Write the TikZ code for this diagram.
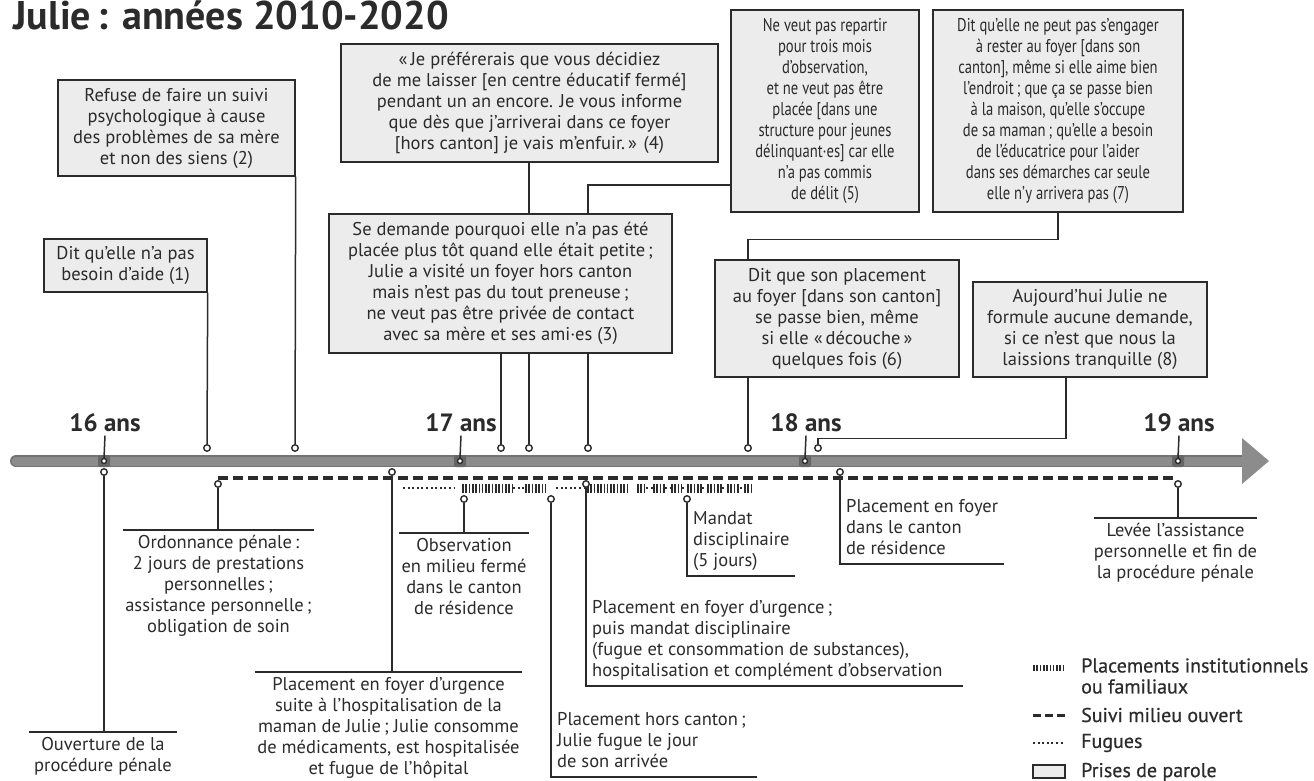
\documentclass[tikz,border=0pt]{standalone}
\usepackage{fontspec}
\setmainfont{PT Sans}
\newfontfamily\narrowfont{PT Sans}[FakeStretch=0.79]
\newfontfamily\legendfont{PT Sans}[FakeBold=0.5]
\usetikzlibrary{backgrounds, calc}

\definecolor{boxgray}{HTML}{ECECEC}
\definecolor{bargray}{HTML}{8C8C8C}
\definecolor{ink}{HTML}{2B2B2B}

\begin{document}
\begin{tikzpicture}[x=1pt, y=-1pt,
    txt/.style={font=\fontsize{18.5}{21}\selectfont, text=ink, inner sep=0pt},
    parole/.style={txt, draw=ink, fill=boxgray, line width=1.4pt, align=center, execute at begin node={\rule{0pt}{22pt}}},
    narrow/.style={font=\narrowfont\fontsize{18.5}{21}\selectfont},
    event/.style={txt, align=center, inner xsep=0pt, inner ysep=5pt, anchor=north},
    lefevent/.style={txt, align=left, inner xsep=6pt, inner ysep=3pt, anchor=south west, execute at end node=\strut},
    link/.style={draw=ink, line width=1.5pt},
    dot/.style={circle, draw=ink, fill=white, line width=1.4pt, inner sep=0pt, minimum size=6.5pt},
    age/.style={font=\bfseries\fontsize{25}{28}\selectfont, text=ink},
    suivi/.style={draw=ink, line width=3.6pt, dash pattern=on 10pt off 5pt},
    placement/.style={draw=ink, line width=9pt, dash pattern=on 1.6pt off 1.7pt},
    fugue/.style={draw=ink, line width=2.4pt, dash pattern=on 2pt off 2.6pt},
]
    \useasboundingbox (0,0) rectangle (1314,781);

    % title
    \node[anchor=base west, font=\bfseries\fontsize{40}{44}\selectfont, text=ink] (title) at (10,30) {Julie\,: années 2010-2020};

    % TIMELINE
    \draw[line width=12pt, line cap=round, draw=black!55] (16,461) -- (1243,461);
    \draw[line width=9pt, line cap=round, draw=bargray] (16,461) -- (1243,461);
    \fill[bargray] (1242,438) -- (1269,461) -- (1242,484) -- cycle;

    \foreach \age/\x in {16/104, 17/460, 18/805, 19/1178} {
        \fill[black!60, rounded corners=2pt] ({\x-6},455) rectangle ({\x+6},467);
        \node[dot, minimum size=5pt] (t\age) at (\x,461) {};
        \node[age] (a\age) at ({\x+1},423) {\age{} ans};
        \draw[link] (a\age.south) -- (t\age.north);
    }

    % Suivi milieu ouvert, placements and fugues
    \draw[suivi] (218,478) -- (1175,478);
    \foreach \a/\b in {462/513, 525/547, 587/627, 637/646, 653/665, 671/682, 687/702, 707/722, 727/740, 744/753}
        \draw[placement] (\a,488) -- (\b,488);
    \foreach \a/\b in {403/454, 513/525, 556/584, 646/653, 665/671, 682/687, 702/707, 722/727, 740/744}
        \draw[fugue] (\a,488) -- (\b,488);

    % PRISES DE PAROLE (above)
    \node[parole, minimum width=163pt, minimum height=53pt] (p1) at (125.5,265.5)
        {Dit qu’elle n’a pas\\besoin d’aide (1)};
    \node[parole, minimum width=237pt, minimum height=96pt] (p2) at (176.5,128)
        {Refuse de faire un suivi\\psychologique à cause\\des problèmes de sa mère\\et non des siens (2)};
    \node[parole, minimum width=377pt, minimum height=118pt] (p4) at (529.5,103)
        {«\,Je préférerais que vous décidiez\\de me laisser [en centre éducatif fermé]\\pendant un an encore. Je vous informe\\que dès que j’arriverai dans ce foyer\\{}[hors canton] je vais m’enfuir.\,» (4)};
    \node[parole, minimum width=343pt, minimum height=139pt] (p3) at (500.5,283.5)
        {Se demande pourquoi elle n’a pas été\\placée plus tôt quand elle était petite\,;\\Julie a visité un foyer hors canton\\mais n’est pas du tout preneuse\,;\\ne veut pas être privée de contact\\avec sa mère et ses ami·es (3)};
    \node[parole, narrow, minimum width=188pt, minimum height=202pt] (p5) at (825,111)
        {Ne veut pas repartir\\pour trois mois\\d’observation,\\et ne veut pas être\\placée [dans une\\structure pour jeunes\\délinquant·es] car elle\\n’a pas commis\\de délit (5)};
    \node[parole, narrow, minimum width=250pt, minimum height=202pt] (p7) at (1058,111)
        {Dit qu’elle ne peut pas s’engager\\à rester au foyer [dans son\\canton], même si elle aime bien\\l’endroit\,; que ça se passe bien\\à la maison, qu’elle s’occupe\\de sa maman\,; qu’elle a besoin\\de l’éducatrice pour l’aider\\dans ses démarches car seule\\elle n’y arrivera pas (7)};
    \node[parole, minimum width=244pt, minimum height=117pt] (p6) at (837,318.5)
        {Dit que son placement\\au foyer [dans son canton]\\se passe bien, même\\si elle «\,découche\,»\\quelques fois (6)};
    \node[parole, minimum width=234pt, minimum height=95pt] (p8) at (1090,329.5)
        {Aujourd’hui Julie ne\\formule aucune demande,\\si ce n’est que nous la\\laissions tranquille (8)};

    \foreach \n/\x in {1/207, 2/295, 3/501, 4/529, 5/588, 6/748, 8/818}
        \node[dot] (d\n) at (\x,448) {};

    \begin{pgfonlayer}{background}
        \draw[link] (p1.south east) -- (d1.north);
        \draw[link] (p2.south east) -- (d2.north);
        \draw[link] (p3.south -| d3) -- (d3.north);
        \draw[link] (p4.south -| d4) -- (d4.north);
        \draw[link] (p5.west) ++(0,74) -| (d5.north);
        \draw[link] (p6.south -| d6) -- (d6.north);
        \draw[link] (p7.south) -- ++(0,27) -| (d6.north);
        \draw[link] ([xshift=-24pt]p8.south) -- ++(0,61) -| (d8.north);
    \end{pgfonlayer}

    % EVENTS (below)
    \node[dot] (b1) at (104,472) {};
    \node[dot] (b2) at (218,484) {};
    \node[dot] (b3) at (392,472) {};
    \node[dot] (b4) at (464,499) {};
    \node[dot] (b5) at (551,499) {};
    \node[dot] (b6) at (586,484) {};
    \node[dot] (b7) at (687,499) {};
    \node[dot] (b8) at (840,472) {};
    \node[dot] (b9) at (1178,484) {};

    \node[event, minimum width=148pt] (e1) at (103,732)
        {Ouverture de la\\procédure pénale};
    \node[event, minimum width=191pt] (e2) at (218.5,530)
        {Ordonnance pénale\,:\\2 jours de prestations\\personnelles\,;\\assistance personnelle\,;\\obligation de soin};
    \node[event, minimum width=267pt] (e3) at (388.5,672)
        {Placement en foyer d’urgence\\suite à l’hospitalisation de la\\maman de Julie\,; Julie consomme\\de médicaments, est hospitalisée\\et fugue de l’hôpital};
    \node[event, minimum width=130pt] (e4) at (464,533)
        {Observation\\en milieu fermé\\dans le canton\\de résidence};
    \node[event, minimum width=155pt] (e9) at (1175.5,518)
        {Levée l’assistance\\personnelle et fin de\\la procédure pénale};

    \foreach \n in {1,2,3,4,9}
        \draw[link] (b\n.south) -- (b\n |- e\n.north) (e\n.north west) -- (e\n.north east);

    % rule ends of the left-aligned events
    \coordinate (r5) at (757,777);
    \coordinate (r6) at (963,686);
    \coordinate (r7) at (795,576);
    \coordinate (r8) at (1004,564);

    \node[lefevent] (e5) at (r5 -| b5)
        {Placement hors canton\,;\\Julie fugue le jour\\de son arrivée};
    \node[lefevent] (e6) at (r6 -| b6)
        {Placement en foyer d’urgence\,;\\puis mandat disciplinaire\\(fugue et consommation de substances),\\hospitalisation et complément d’observation};
    \node[lefevent] (e7) at (r7 -| b7)
        {Mandat\\disciplinaire\\(5 jours)};
    \node[lefevent] (e8) at (r8 -| b8)
        {Placement en foyer\\dans le canton\\de résidence};

    \foreach \n in {5,6,7,8}
        \draw[link] (b\n.south) |- (r\n);

    % LEGEND
    \draw[placement, line width=6pt] (1033,668) -- (1065,668);
    \draw[suivi, line width=3pt, dash pattern=on 8pt off 4pt] (1033,715) -- (1065,715);
    \draw[fugue, line width=2pt] (1033,743) -- (1065,743);
    \draw[parole] (1033,765) rectangle (1065,778);
    \node[txt, font=\legendfont\fontsize{20}{21}\selectfont, anchor=west, align=left] (l1) at (1081,676) {Placements institutionnels\\ou familiaux};
    \node[txt, font=\legendfont\fontsize{20}{21}\selectfont, anchor=west] (l2) at (1081,715) {Suivi milieu ouvert};
    \node[txt, font=\legendfont\fontsize{20}{21}\selectfont, anchor=west] (l3) at (1081,743) {Fugues};
    \node[txt, font=\legendfont\fontsize{20}{21}\selectfont, anchor=west] (l4) at (1081,772) {Prises de parole};
\end{tikzpicture}
\end{document}
